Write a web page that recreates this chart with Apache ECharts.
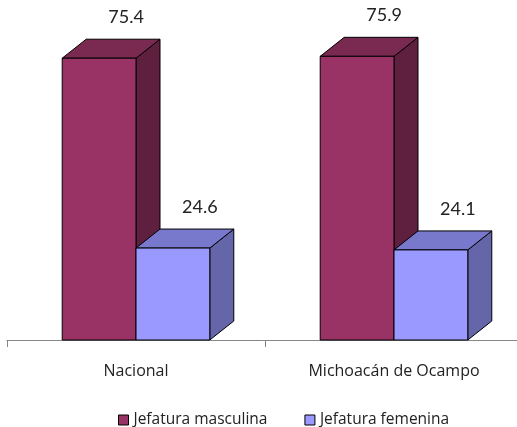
<!DOCTYPE html>
<html>
<head>
<meta charset="utf-8">
<script src="https://cdn.jsdelivr.net/npm/echarts@6/dist/echarts.min.js"></script>
<style>
  html, body { margin: 0; padding: 0; background: #fff; }
  #chart { width: 517px; height: 427px; }
</style>
</head>
<body>
<div id="chart"></div>
<script>
// datos del gráfico
const categorias = ['Nacional', 'Michoacán de Ocampo'];
const masculina = [75.4, 75.9];
const femenina = [24.6, 24.1];
const nombres = ['Jefatura masculina', 'Jefatura femenina'];

// colores de cada cara (frente, tapa, lado)
const caras = [
    { frente: '#993366', tapa: '#7a2951', lado: '#5f1f3f' },
    { frente: '#9999ff', tapa: '#7878cc', lado: '#6565aa' }
];

const FUENTE = 'Lato, "Open Sans", sans-serif';
const FUENTE2 = '"Open Sans", Lato, sans-serif';

// dibuja una caja 3D para cada barra
const cajaRender = (lado) => (params, api) => {
    const cat = api.value(0);
    const val = api.value(1);
    const base = api.coord([cat, 0]);
    const tope = api.coord([cat, val]);
    const banda = api.size([1, 0])[0];
    const w = banda * 0.286;
    const x0 = lado === 0 ? base[0] - w : base[0];
    const x1 = x0 + w;
    const yb = base[1];
    const yt = tope[1];
    const dx = 24, dy = -19;
    const c = caras[lado];
    const borde = { stroke: '#000', lineWidth: 1 };
    return {
        type: 'group',
        children: [
            {
                type: 'polygon',
                shape: { points: [[x1, yb], [x1 + dx, yb + dy], [x1 + dx, yt + dy], [x1, yt]] },
                style: Object.assign({ fill: c.lado }, borde)
            },
            {
                type: 'polygon',
                shape: { points: [[x0, yt], [x0 + dx, yt + dy], [x1 + dx, yt + dy], [x1, yt]] },
                style: Object.assign({ fill: c.tapa }, borde)
            },
            {
                type: 'rect',
                shape: { x: x0, y: yt, width: w, height: yb - yt },
                style: Object.assign({ fill: c.frente }, borde)
            },
            {
                type: 'text',
                style: {
                    text: val.toFixed(1),
                    x: (x0 + x1) / 2 + 27,
                    y: yt - 41,
                    align: 'center',
                    verticalAlign: 'middle',
                    font: '18px ' + FUENTE,
                    fill: '#222'
                }
            }
        ]
    };
};

const chart = echarts.init(document.getElementById('chart'));

chart.setOption({
    animation: false,
    grid: { left: 7, width: 516, top: 41, bottom: 87, outerBoundsMode: 'none', containLabel: false },
    legend: {
        left: 113,
        top: 407,
        itemWidth: 10,
        itemHeight: 10,
        itemGap: 37,
        icon: 'rect',
        textStyle: { fontFamily: FUENTE2, fontSize: 15.5, color: '#222' },
        data: nombres.map((n) => ({ name: n, itemStyle: { borderColor: '#000', borderWidth: 1 } }))
    },
    xAxis: {
        type: 'category',
        data: categorias,
        boundaryGap: true,
        axisLine: { lineStyle: { color: '#868686', width: 1 } },
        axisTick: { show: true, length: 7, lineStyle: { color: '#868686' } },
        axisLabel: { margin: 23, fontFamily: FUENTE2, fontSize: 16, color: '#222' }
    },
    yAxis: { type: 'value', min: 0, max: 80, show: false },
    series: [
        {
            name: nombres[0],
            type: 'custom',
            renderItem: cajaRender(0),
            clip: false,
            itemStyle: { color: caras[0].frente, borderColor: '#000', borderWidth: 1 },
            data: masculina.map((v, i) => [i, v])
        },
        {
            name: nombres[1],
            type: 'custom',
            renderItem: cajaRender(1),
            clip: false,
            itemStyle: { color: caras[1].frente, borderColor: '#000', borderWidth: 1 },
            data: femenina.map((v, i) => [i, v])
        }
    ]
});
</script>
</body>
</html>
